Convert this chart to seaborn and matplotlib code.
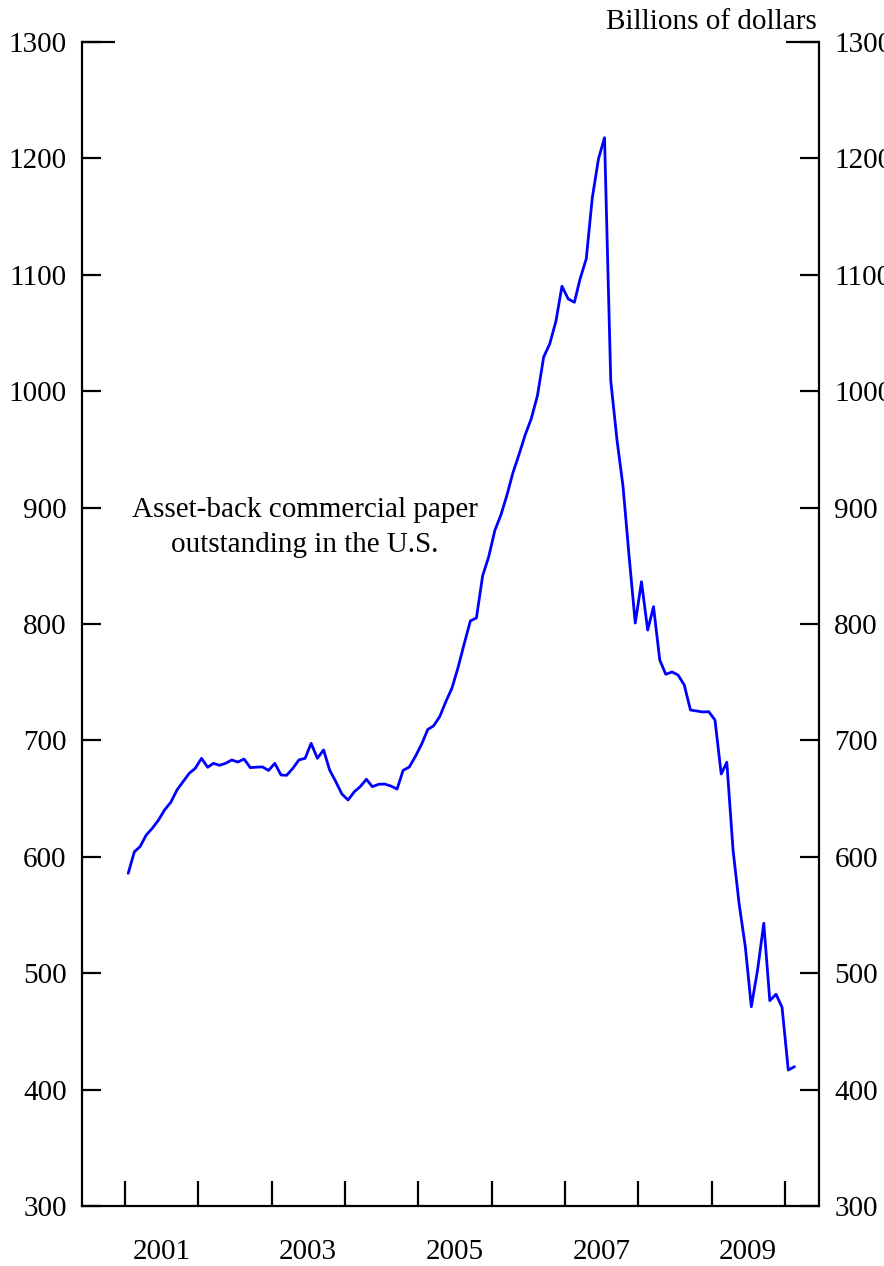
import pandas as pd
import seaborn as sns
import matplotlib.pyplot as plt

# Monthly ABCP outstanding, billions of dollars, Jan 2001 - Feb 2010
start_month = '2001-01-01'
abcp = [
    585.8, 604.4, 608.7, 618.7, 624.5, 631.6, 640.2, 646.8, 657.4, 664.5, 671.7, 676.0,
    684.6, 676.9, 680.3, 678.6, 680.3, 683.2, 681.4, 684.0, 676.6, 677.0, 677.2, 674.2,
    680.3, 670.3, 670.0, 676.0, 683.2, 684.6, 697.5, 684.6, 691.8, 674.6, 664.5, 654.0,
    648.8, 655.9, 660.2, 666.6, 660.2, 662.3, 662.5, 660.8, 658.2, 674.2, 677.2, 686.2,
    696.7, 709.4, 712.4, 720.3, 733.0, 744.8, 762.2, 782.8, 802.7, 805.2, 841.4, 857.6,
    880.5, 894.2, 910.1, 930.0, 945.5, 962.5, 976.3, 996.2, 1029.4, 1040.6, 1060.1, 1090.2,
    1079.3, 1076.4, 1096.3, 1113.7, 1166.0, 1199.7, 1217.8, 1008.9, 958.2, 918.4, 857.0, 800.8,
    836.3, 794.8, 814.9, 769.1, 756.8, 758.8, 756.2, 747.6, 726.1, 725.3, 724.4, 724.7,
    717.5, 671.1, 681.2, 605.8, 560.0, 522.8, 471.2, 502.7, 542.9, 476.4, 481.9, 470.7,
    416.8, 419.7,
]
label_years = [2001, 2003, 2005, 2007, 2009]
tick_years = list(range(2001, 2011))
y_ticks = list(range(300, 1301, 100))

df = pd.DataFrame({
    'date': pd.date_range(start_month, periods=len(abcp), freq='MS') + pd.Timedelta(days=16),
    'value': abcp,
})

sns.set_style('white')
plt.rcParams['font.family'] = ['Liberation Serif', 'DejaVu Serif']
plt.rcParams['text.color'] = 'black'
fs = 21

fig = plt.figure(figsize=(8.84, 12.66), dpi=100)
ax = fig.add_axes([82 / 884, 60 / 1266, 737 / 884, 1164 / 1266])

sns.lineplot(data=df, x='date', y='value', ax=ax, color='#0000ff', linewidth=2)

ax.set_ylim(300, 1300)
ax.set_xlim(pd.Timestamp('2000-06-01'), pd.Timestamp('2010-06-19'))
ax.set_xlabel('')
ax.set_ylabel('')

# y axis: ticks inward, labels on both sides; the top tick is drawn longer
ax.yaxis.remove_overlapping_locs = False
ax.set_yticks(y_ticks)
ax.set_yticks([y_ticks[-1]], minor=True)
ax.tick_params(axis='y', which='major', direction='in', length=14, width=1.6,
               left=True, right=True, labelleft=True, labelright=True,
               pad=11, labelsize=fs, color='black', labelcolor='black')
ax.tick_params(axis='y', which='minor', direction='in', length=24, width=1.6,
               left=True, right=True, labelleft=False, labelright=False,
               color='black')

# x axis: year boundary ticks inward, labels centred mid-year
ax.set_xticks([pd.Timestamp(f'{y}-01-01') for y in tick_years])
ax.set_xticklabels([])
ax.set_xticks([pd.Timestamp(f'{y}-07-02') for y in label_years], minor=True)
ax.set_xticklabels([str(y) for y in label_years], minor=True)
ax.tick_params(axis='x', which='major', direction='in', length=18, width=1.6,
               bottom=True, color='black')
ax.tick_params(axis='x', which='minor', length=0, pad=24, labelsize=fs,
               labelcolor='black')

for side in ['left', 'right', 'bottom']:
    ax.spines[side].set_visible(True)
    ax.spines[side].set_color('black')
    ax.spines[side].set_linewidth(1.6)
ax.spines['top'].set_visible(False)

ax.text(0.3026, 0.583, 'Asset-back commercial paper\noutstanding in the U.S.',
        transform=ax.transAxes, ha='center', va='center', fontsize=21,
        linespacing=1.45, color='black')
fig.text(817 / 884, 1 - 29 / 1266, 'Billions of dollars', ha='right', va='baseline',
         fontsize=fs, color='black')

fig.savefig('out.png', dpi=100)
